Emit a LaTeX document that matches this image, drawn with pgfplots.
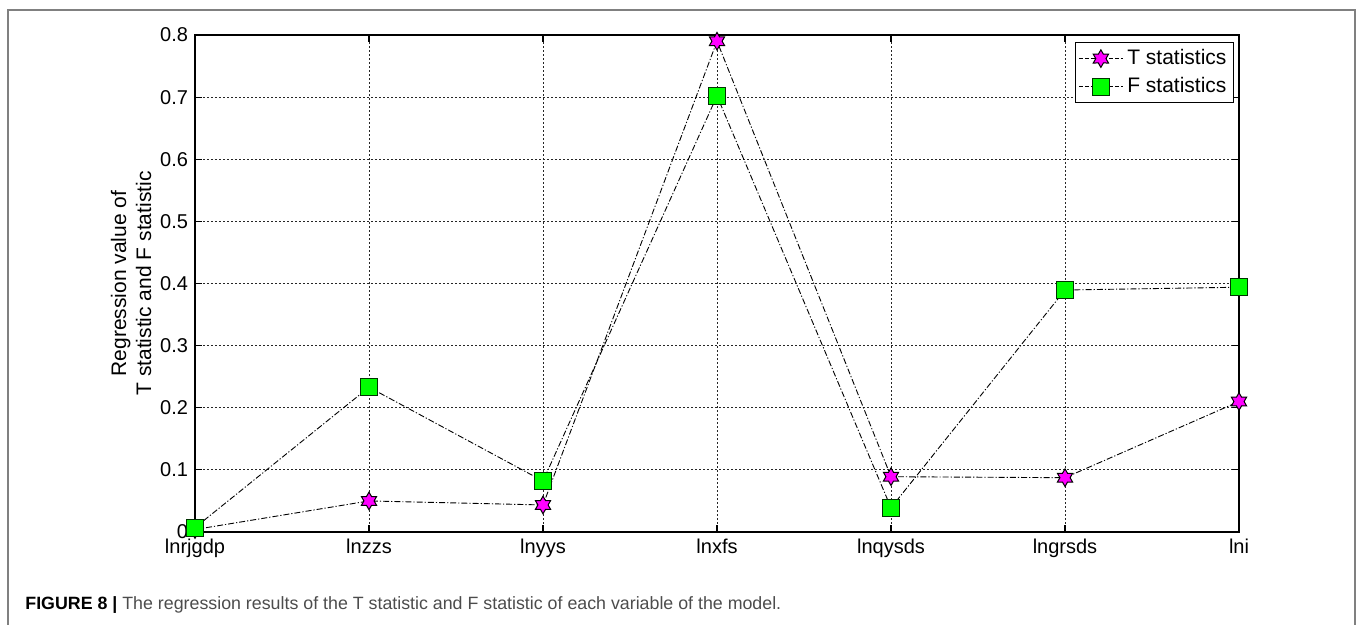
\documentclass[border=0pt]{standalone}
\usepackage{pgfplots}
\pgfplotsset{compat=1.18}
\usepackage{fontspec}
\setmainfont{Liberation Sans}
\definecolor{mag}{RGB}{255,0,255}
\definecolor{grn}{RGB}{0,255,0}
\pgfdeclareplotmark{hexstar}{%
  \pgfpathmoveto{\pgfpointpolar{90}{\pgfplotmarksize}}%
  \pgfpathlineto{\pgfpointpolar{120}{0.577\pgfplotmarksize}}%
  \pgfpathlineto{\pgfpointpolar{150}{\pgfplotmarksize}}%
  \pgfpathlineto{\pgfpointpolar{180}{0.577\pgfplotmarksize}}%
  \pgfpathlineto{\pgfpointpolar{210}{\pgfplotmarksize}}%
  \pgfpathlineto{\pgfpointpolar{240}{0.577\pgfplotmarksize}}%
  \pgfpathlineto{\pgfpointpolar{270}{\pgfplotmarksize}}%
  \pgfpathlineto{\pgfpointpolar{300}{0.577\pgfplotmarksize}}%
  \pgfpathlineto{\pgfpointpolar{330}{\pgfplotmarksize}}%
  \pgfpathlineto{\pgfpointpolar{0}{0.577\pgfplotmarksize}}%
  \pgfpathlineto{\pgfpointpolar{30}{\pgfplotmarksize}}%
  \pgfpathlineto{\pgfpointpolar{60}{0.577\pgfplotmarksize}}%
  \pgfpathclose
  \pgfusepathqfillstroke}
\begin{document}
\begin{tikzpicture}
\path[use as bounding box] (-97.5pt,-46.5pt) rectangle (581.5pt,266pt);
\draw[black!50, line width=1pt] (-93.5pt,-60pt) -- (-93.5pt,261pt) -- (580pt,261pt) -- (580pt,-60pt);
\begin{axis}[
  scale only axis, width=522pt, height=248.5pt,
  at={(0pt,0pt)}, anchor=south west,
  xmin=0, xmax=6, ymin=0, ymax=0.8,
  xtick={0,1,2,3,4,5,6},
  xticklabels={lnrjgdp,lnzzs,lnyys,lnxfs,lnqysds,lngrsds,lni},
  ytick={0,0.1,0.2,0.3,0.4,0.5,0.6,0.7,0.8},
  yticklabel style={/pgf/number format/fixed,/pgf/number format/precision=1},
  /pgf/number format/assume math mode=true,
  tick label style={font=\fontsize{10}{12}\selectfont},
  grid=major,
  major grid style={black!85, line width=0.4pt, dash pattern=on 1pt off 1pt},
  axis line style={line width=0.7pt},
  tick style={black, line width=0.6pt},
  major tick length=3.5pt,
  clip=false,
  ylabel={Regression value of\\T statistic and F statistic},
  ylabel style={at={(axis description cs:-0.0613,0.5)}, anchor=center, align=center, font=\fontsize{10.5}{12.5}\selectfont},
  legend style={at={(rel axis cs:1,1)}, anchor=north east, xshift=-2.5pt, yshift=-3.5pt,
    draw=black, line width=0.5pt, font=\fontsize{10.5}{12.5}\selectfont,
    inner sep=1.5pt, row sep=1pt, cells={anchor=west}},
  legend image code/.code={\draw[mark repeat=2,mark phase=2, dash pattern=on 2pt off 1pt] plot coordinates {(0pt,0pt) (11pt,0pt) (22pt,0pt)};},
]
\addplot[black, line width=0.45pt, dash pattern=on 3pt off 1pt on 0.6pt off 1pt,
  mark=hexstar, mark size=4.4pt, mark options={solid, fill=mag, draw=black, line width=0.5pt}]
  coordinates {(0,0.004) (1,0.050) (2,0.0435) (3,0.790) (4,0.089) (5,0.0874) (6,0.210)};
\addlegendentry{T statistics}
\addplot[black, line width=0.45pt, dash pattern=on 3pt off 1pt on 0.6pt off 1pt,
  mark=square*, mark size=4.2pt, mark options={solid, fill=grn, draw=black!80!green, line width=0.5pt}]
  coordinates {(0,0.007) (1,0.233) (2,0.082) (3,0.702) (4,0.039) (5,0.3895) (6,0.394)};
\addlegendentry{F statistics}
\end{axis}
\node[anchor=base west, font=\fontsize{8.9}{10.5}\selectfont, inner sep=0pt] at (-85pt,-39pt)
  {\textbf{FIGURE 8 |} \textcolor{black!70}{The regression results of the T statistic and F statistic of each variable of the model.}};
\end{tikzpicture}
\end{document}
